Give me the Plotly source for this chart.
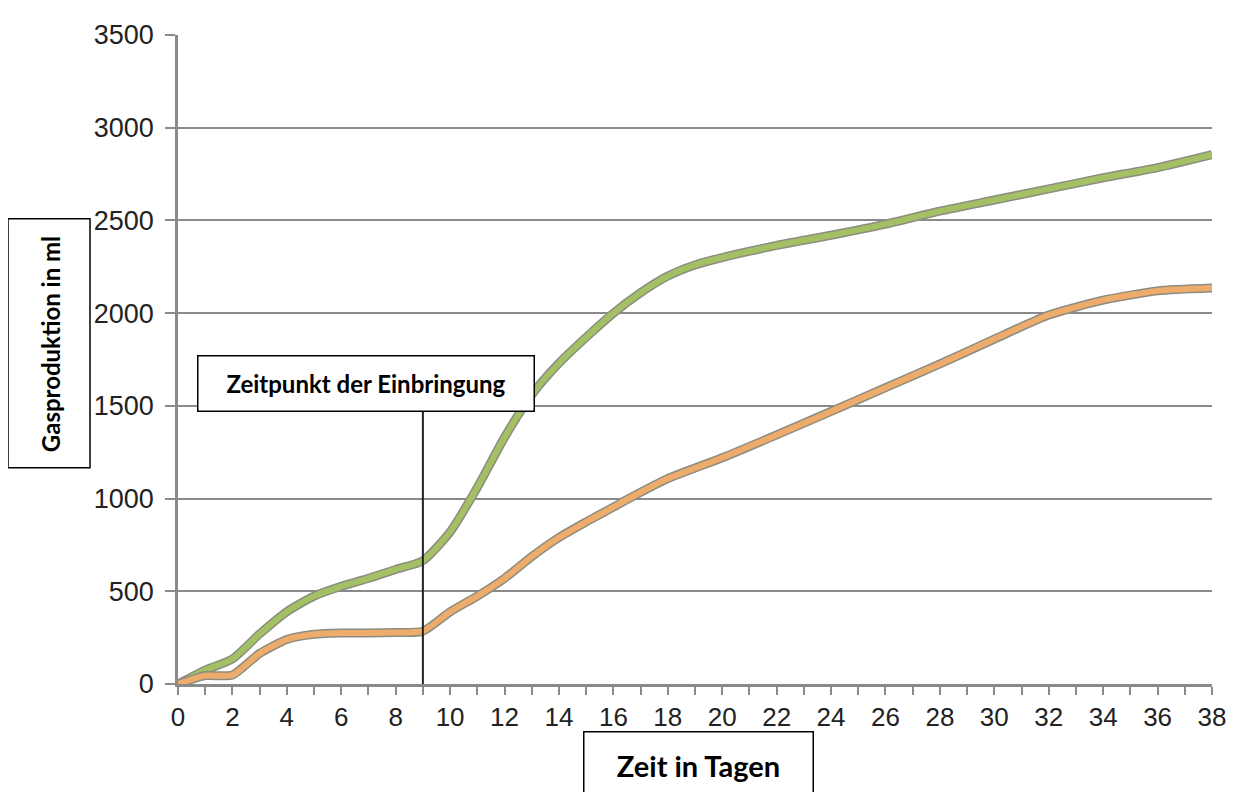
import plotly.graph_objects as go

# Data
days = [0, 1, 2, 3, 4, 5, 6, 7, 8, 9, 10, 11, 12, 13, 14, 15, 16, 17, 18, 19, 20,
        22, 24, 26, 28, 30, 32, 34, 36, 38]
green_ml = [0, 75, 135, 270, 390, 474, 527, 570, 618, 665, 820, 1060, 1330, 1560, 1730,
            1870, 2000, 2110, 2200, 2260, 2300, 2365, 2420, 2480, 2550, 2610, 2670,
            2730, 2785, 2855]
orange_days = [0, 1, 2, 3, 4, 5, 6, 7, 8, 9, 10, 11, 12, 13, 14, 15, 16, 17, 18, 20,
               22, 24, 26, 28, 30, 32, 34, 36, 38]
orange_ml = [0, 45, 48, 165, 240, 268, 275, 275, 278, 285, 389, 474, 570, 687, 790,
             874, 954, 1034, 1108, 1220, 1343, 1470, 1598, 1726, 1860, 1990, 2070,
             2120, 2135]

x_tick_vals = list(range(0, 39, 2))
y_tick_vals = list(range(0, 3501, 500))
event_day = 9
event_label = "Zeitpunkt der Einbringung"
x_title = "Zeit in Tagen"
y_title = "Gasproduktion in ml"

# plot area in page pixels (used only to place the boxes)
PX0, PX1, PY_TOP, PY_BOT = 178, 1212, 27, 684


def px(x):
    return (x - PX0) / (PX1 - PX0)


def py(y):
    return (PY_BOT - y) / (PY_BOT - PY_TOP)


fig = go.Figure()
for xs, ys, col in [(days, green_ml, "#a3c164"), (orange_days, orange_ml, "#eeac6c")]:
    fig.add_trace(go.Scatter(x=xs, y=ys, mode="lines",
                             line=dict(color="#8c8c80", width=9, shape="spline", smoothing=0.6),
                             hoverinfo="skip", showlegend=False))
    fig.add_trace(go.Scatter(x=xs, y=ys, mode="lines",
                             line=dict(color=col, width=6, shape="spline", smoothing=0.6),
                             showlegend=False))

fig.add_shape(type="line", x0=event_day, x1=event_day, y0=0, y1=1470,
              xref="x", yref="y", line=dict(color="#222222", width=2))

label_font = dict(family="Lato, Open Sans, sans-serif", color="black")
fig.add_annotation(x=px(365.5), y=py(380), xref="paper", yref="paper",
                   text="<b>" + event_label + "</b>", showarrow=False,
                   font=dict(size=24, **label_font), bgcolor="white",
                   bordercolor="black", borderwidth=1.5, width=333, height=52,
                   xanchor="center", yanchor="middle")

# y-title box and text
fig.add_shape(type="rect", xref="paper", yref="paper",
              x0=px(8), x1=px(90), y0=py(465), y1=py(213),
              line=dict(color="black", width=1.5), fillcolor="white", layer="above")
fig.add_annotation(x=px(50), y=py(340), xref="paper", yref="paper",
                   text="<b>" + y_title + "</b>", showarrow=False, textangle=-90,
                   font=dict(size=24, **label_font),
                   xanchor="center", yanchor="middle")

fig.add_annotation(x=px(698), y=py(766), xref="paper", yref="paper",
                   text="<b>" + x_title + "</b>", showarrow=False,
                   font=dict(size=29, **label_font), bgcolor="white",
                   bordercolor="black", borderwidth=1.5, width=226, height=64,
                   xanchor="center", yanchor="middle")

fig.update_layout(
    width=1234, height=792,
    margin=dict(l=170, r=30, t=19, b=116),
    paper_bgcolor="white", plot_bgcolor="white",
    font=dict(family="Liberation Sans, Arial, sans-serif", size=27, color="#222222"),
)
fig.update_xaxes(range=[0, 38], tickvals=x_tick_vals, showgrid=False, zeroline=False,
                 showline=True, linecolor="#8a8a8a", linewidth=2.5,
                 ticks="outside", ticklen=8, tickwidth=2, tickcolor="#8a8a8a",
                 minor=dict(dtick=1, ticks="outside", ticklen=8, tickwidth=2, tickcolor="#8a8a8a"),
                 tickfont=dict(size=26))
fig.update_yaxes(range=[0, 3500], tickvals=y_tick_vals, showgrid=True, gridcolor="#8a8a8a",
                 gridwidth=2, zeroline=False, showline=True, linecolor="#8a8a8a", linewidth=2.5,
                 ticks="outside", ticklen=10, tickwidth=2, tickcolor="#8a8a8a",
                 ticklabelstandoff=6, tickfont=dict(size=27))

fig.write_html("out.html")
